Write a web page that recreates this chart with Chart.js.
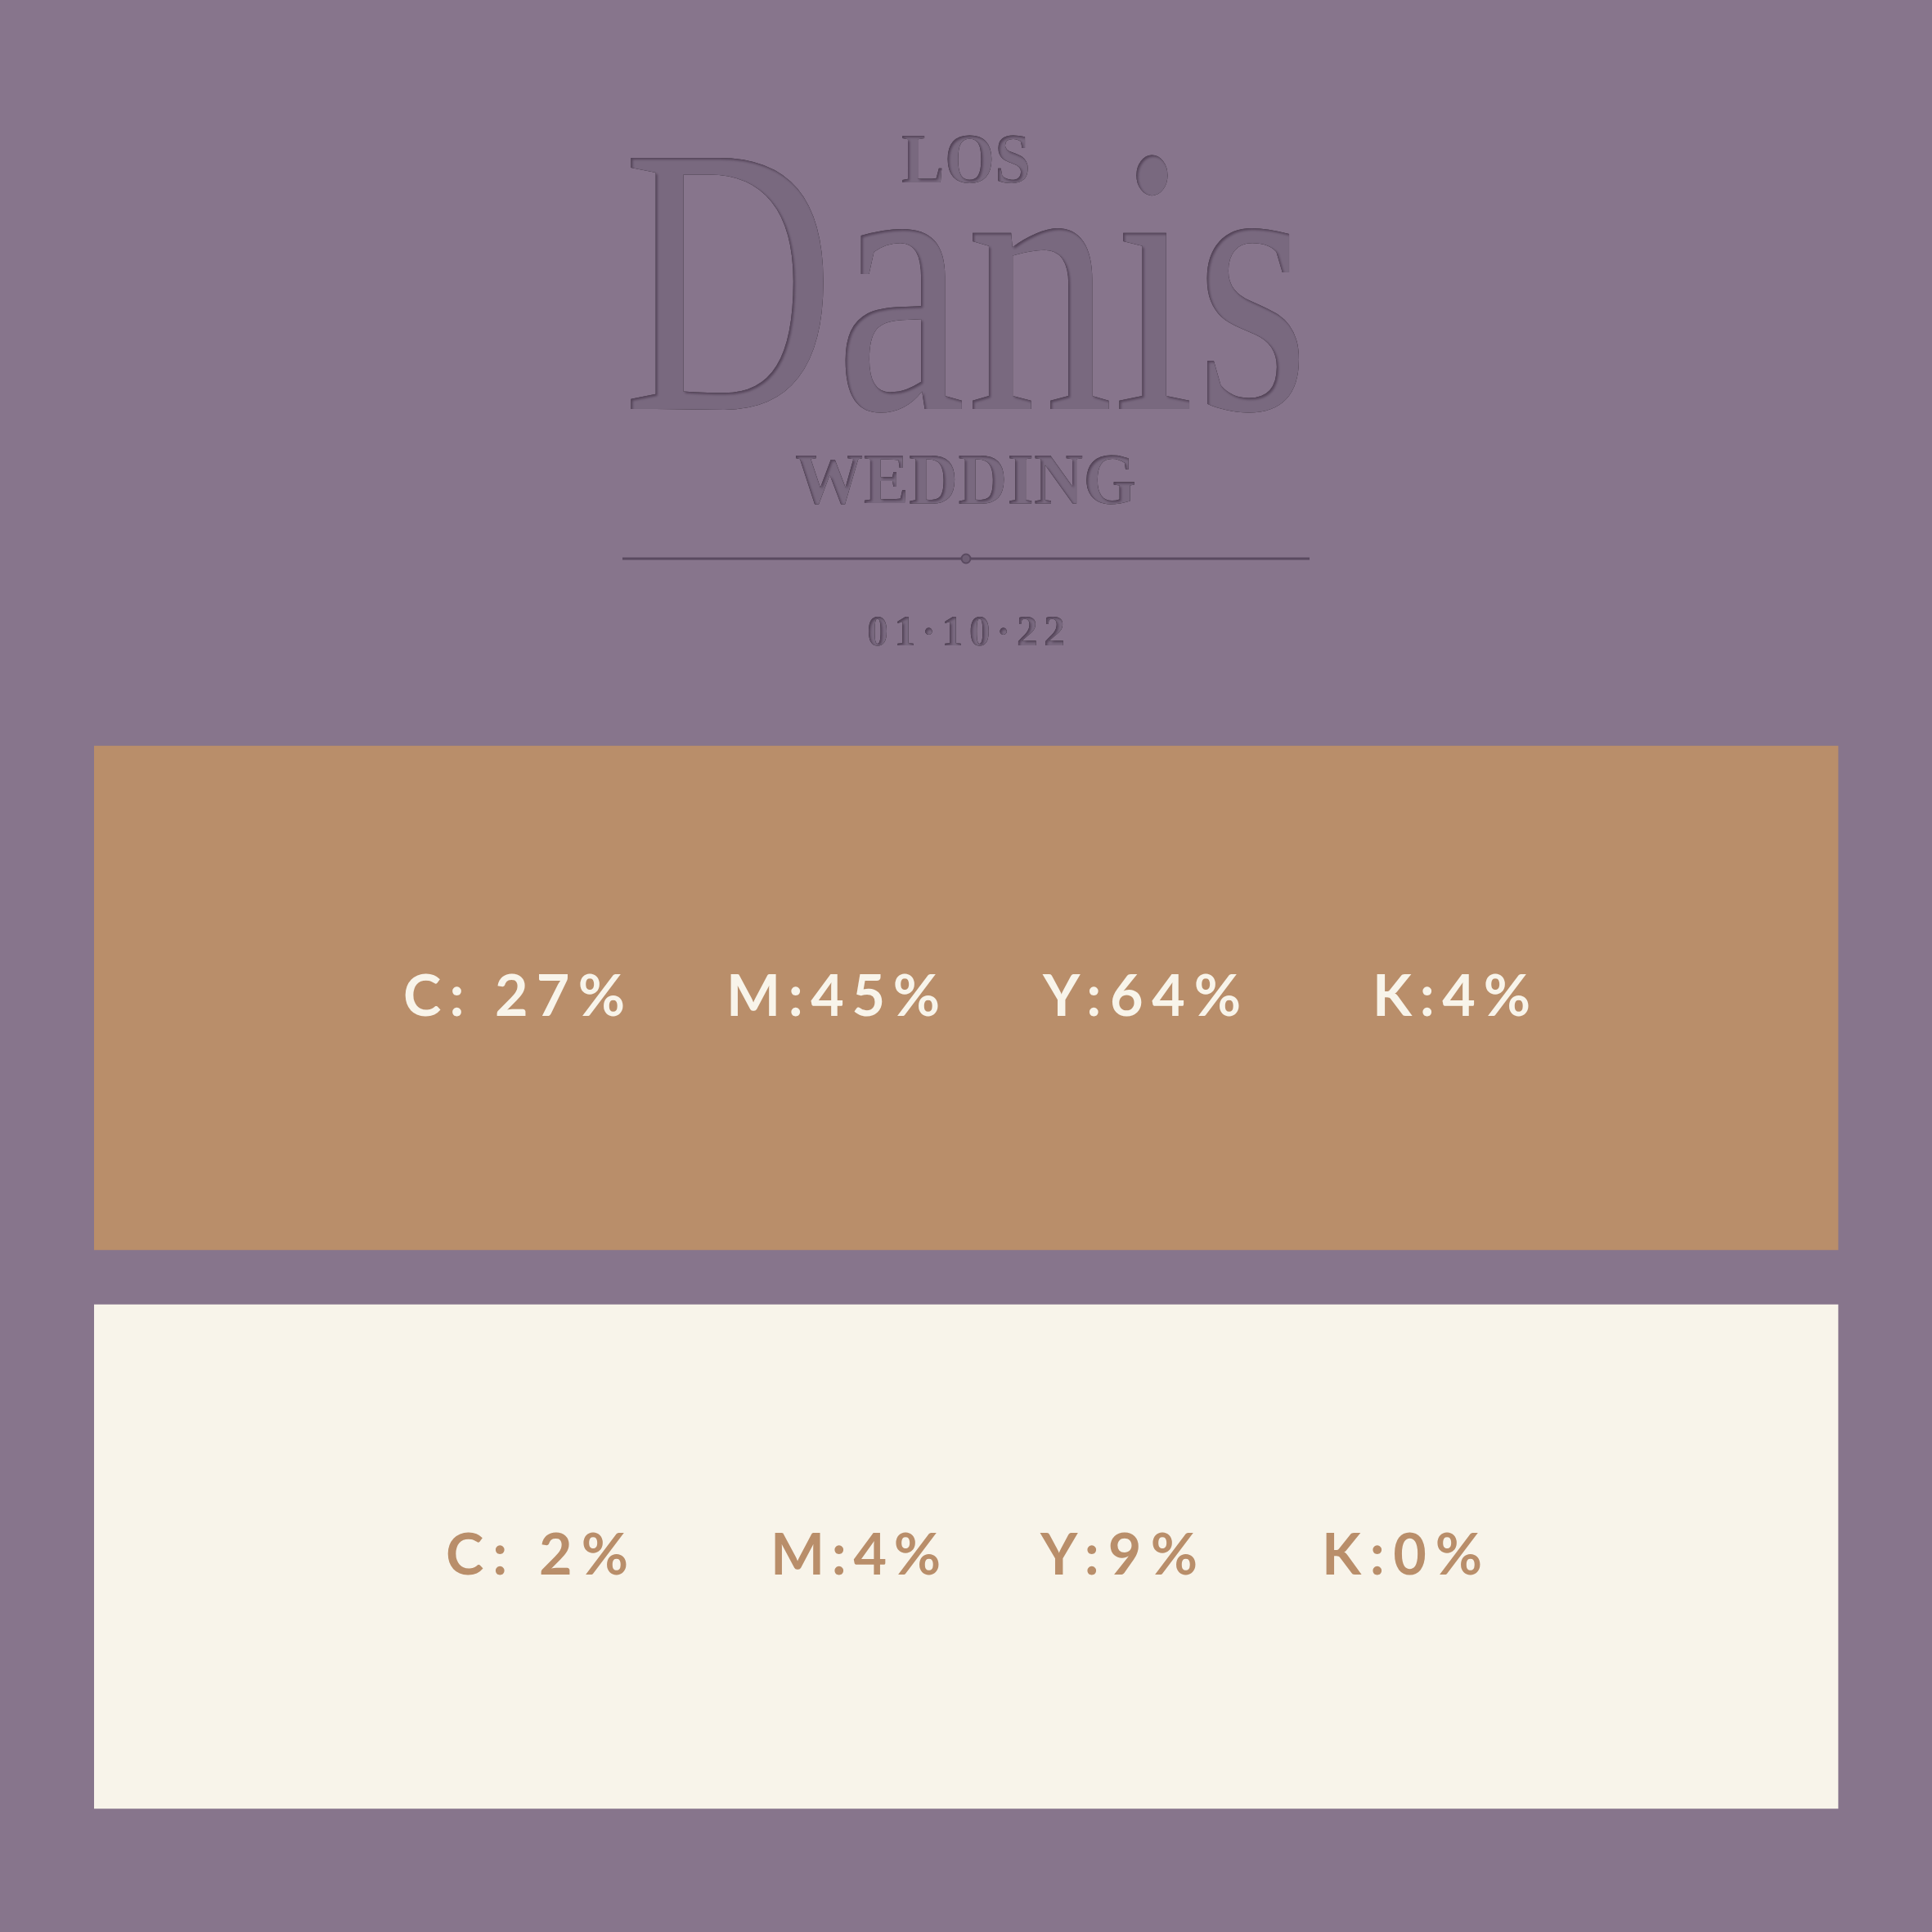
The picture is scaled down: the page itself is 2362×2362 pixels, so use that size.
<!DOCTYPE html>
<html>
<head>
<meta charset="utf-8">
<script src="https://cdn.jsdelivr.net/npm/chart.js@4.4.1/dist/chart.umd.min.js"></script>
<style>
  html, body { margin: 0; padding: 0; background: #87758c; }
  #wrap { width: 2362px; height: 2362px; }
</style>
</head>
<body>
<div id="wrap"><canvas id="c" width="2362" height="2362"></canvas></div>
<script>
// ---- data ----
const swatchNames = ['Caramel', 'Cream'];
const cyanPct = [27, 2];
const magentaPct = [45, 4];
const yellowPct = [64, 9];
const blackPct = [4, 0];
const swatchSpan = [1, 1];

const headerTop = 'LOS';
const headerName = 'Danis';
const headerBottom = 'WEDDING';
const headerDate = '01·10·22';

// ---- styles / layout ----
const bgColor = '#87758c';
const swatchColors = ['#b98e6a', '#f8f4ea'];
const labelColors = ['#f8f4ea', '#b98e6a'];
const labelOffset = [[378, 773, 1160, 1563], [430, 827, 1157, 1501]];
const labelWidth = [[271, 261, 242, 193], [223, 208, 192, 196]];

function cmykLabels(i) {
  return ['C: ' + cyanPct[i] + '%', 'M:' + magentaPct[i] + '%', 'Y:' + yellowPct[i] + '%', 'K:' + blackPct[i] + '%'];
}

function placeText(c, spec, color) {
  c.save();
  c.font = spec.font;
  c.fillStyle = color;
  c.textAlign = 'left';
  c.textBaseline = 'alphabetic';
  c.letterSpacing = '0px';
  const nat = c.measureText(spec.text).width;
  let sx = 1, sp = 0;
  if (nat > spec.w) sx = spec.w / nat;
  else sp = (spec.w - nat) / (spec.text.length - 1);
  c.letterSpacing = sp + 'px';
  c.translate(spec.x, spec.base);
  c.scale(sx, 1);
  c.fillText(spec.text, 0, 0);
  c.restore();
}

function engrave(ctx, spec) {
  const W = ctx.canvas.width, H = ctx.canvas.height;
  const a = document.createElement('canvas'); a.width = W; a.height = H;
  const b = document.createElement('canvas'); b.width = W; b.height = H;
  const ac = a.getContext('2d'), bc = b.getContext('2d');
  placeText(ac, spec, '#79697f');
  bc.fillStyle = '#000'; bc.fillRect(0, 0, W, H);
  bc.globalCompositeOperation = 'destination-out';
  placeText(bc, spec, '#000');
  ac.globalCompositeOperation = 'source-atop';
  ac.shadowColor = 'rgba(58,42,62,0.7)';
  ac.shadowBlur = 3;
  ac.shadowOffsetX = 2;
  ac.shadowOffsetY = 2;
  ac.globalAlpha = 0.85;
  ac.drawImage(b, 0, 0);
  ctx.drawImage(a, 0, 0);
}

const headerPlugin = {
  id: 'header',
  beforeDraw(chart) {
    const ctx = chart.ctx;
    ctx.save();
    ctx.fillStyle = bgColor;
    ctx.fillRect(0, 0, chart.width, chart.height);
    const cx = 1181;
    engrave(ctx, { text: headerTop, font: 'bold 87px "Liberation Serif"', x: cx - 79, w: 158, base: 223 });
    engrave(ctx, { text: headerName, font: '469px "Liberation Serif"', x: cx - 420, w: 840, base: 500 });
    engrave(ctx, { text: headerBottom, font: 'bold 88px "Liberation Serif"', x: cx - 209, w: 417, base: 615 });
    engrave(ctx, { text: headerDate, font: 'bold 52px "Liberation Serif"', x: cx - 121, w: 242, base: 789 });
    // divider line
    ctx.strokeStyle = '#5a4a60';
    ctx.lineWidth = 3;
    ctx.beginPath();
    ctx.moveTo(761, 683);
    ctx.lineTo(1601, 683);
    ctx.stroke();
    ctx.fillStyle = '#6e5e74';
    ctx.beginPath();
    ctx.arc(cx, 683, 5.5, 0, Math.PI * 2);
    ctx.fill();
    ctx.lineWidth = 2;
    ctx.stroke();
    ctx.restore();
  }
};

const labelPlugin = {
  id: 'cmykLabels',
  afterDatasetsDraw(chart) {
    const ctx = chart.ctx;
    const area = chart.chartArea;
    const y = chart.scales.y;
    swatchNames.forEach((name, i) => {
      const cy = y.getPixelForValue(i);
      const texts = cmykLabels(i);
      texts.forEach((t, j) => {
        placeText(ctx, {
          text: t,
          font: 'bold 70px Lato',
          x: area.left + labelOffset[i][j],
          w: labelWidth[i][j],
          base: cy + 22
        }, labelColors[i]);
      });
    });
  }
};

new Chart(document.getElementById('c'), {
  type: 'bar',
  data: {
    labels: swatchNames,
    datasets: [{
      data: swatchSpan,
      backgroundColor: swatchColors,
      borderWidth: 0,
      barThickness: 616
    }]
  },
  options: {
    indexAxis: 'y',
    responsive: false,
    animation: false,
    devicePixelRatio: 1,
    layout: { padding: { top: 878.5, bottom: 117.5, left: 115, right: 114.5 } },
    scales: {
      x: { display: false, min: 0, max: 1 },
      y: { display: false }
    },
    plugins: {
      legend: { display: false },
      tooltip: { enabled: false },
      title: { display: false }
    }
  },
  plugins: [headerPlugin, labelPlugin]
});
</script>
</body>
</html>
